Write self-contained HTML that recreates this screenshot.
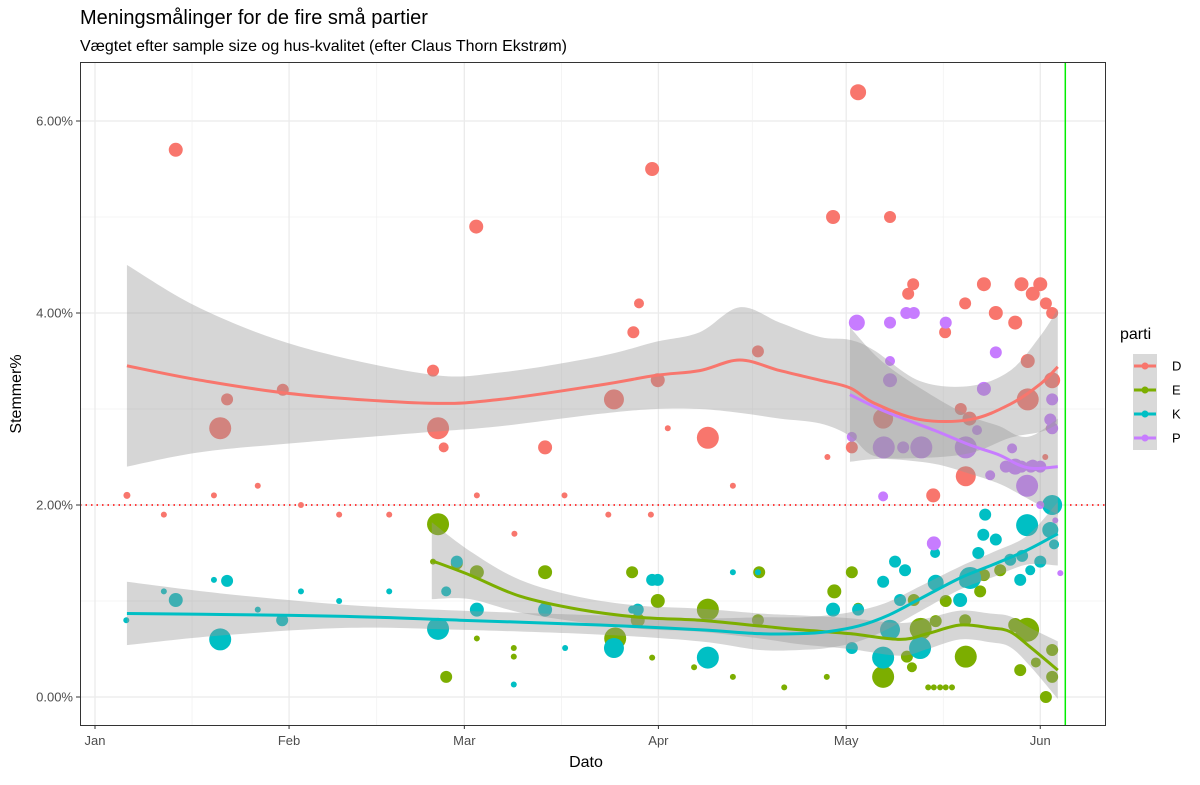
<!DOCTYPE html>
<html><head><meta charset="utf-8"><style>
body{margin:0;background:#fff;font-family:"Liberation Sans",Arial,sans-serif}
svg text{font-family:"Liberation Sans",Arial,sans-serif}
</style></head><body>
<svg id="chart" width="1200" height="780" viewBox="0 0 1200 780">
<text x="80" y="24" font-size="20" fill="#000">Meningsmålinger for de fire små partier</text>
<text x="80" y="51" font-size="16" fill="#000">Vægtet efter sample size og hus-kvalitet (efter Claus Thorn Ekstrøm)</text>
<g id="grid"></g><g id="pts"></g><g id="smooth"></g>
<rect x="80.5" y="62.5" width="1025" height="663" fill="none" stroke="#333" stroke-width="1"/>
<g id="axes"></g>
<text x="586" y="767" font-size="16" text-anchor="middle">Dato</text>
<text transform="translate(21,394) rotate(-90)" font-size="16" text-anchor="middle">Stemmer%</text>
<g id="legend"></g>
</svg>
<script>
// ---- data (day = days since Jan 1, value = percent, w = point size) ----
const monthLabels=["Jan","Feb","Mar","Apr","May","Jun"];
const monthDays=[0,31,59,90,120,151];
const yTicks=[0,2,4,6];
const yTickLabels=["0.00%","2.00%","4.00%","6.00%"];
const threshold=2;
const electionDay=155;
const parties=["D","E","K","P"];
const colors=["#F8766D","#7CAE00","#00BFC4","#C77CFF"];

const dDays=[5.1,11,12.9,20,21.1,19,26,30,32.9,39,47,54,54.8,55.7,60.9,61,67,71.9,75,82,82.9,86,86.9,89,88.8,89.9,91.5,97.9,101.9,105.9,117,117.9,120.9,121.9,127,125.9,129.9,130.7,133,133.9,135.8,138.3,139,139.1,139.7,142,143.9,147,148,149.8,151,149,149,151.9,152.9,152.9,152.5,151.8];
const dVals=[2.1,1.9,5.7,2.8,3.1,2.1,2.2,3.2,2.0,1.9,1.9,3.4,2.8,2.6,4.9,2.1,1.7,2.6,2.1,1.9,3.1,3.8,4.1,5.5,1.9,3.3,2.8,2.7,2.2,3.6,2.5,5.0,2.6,6.3,5.0,2.9,4.2,4.3,2.6,2.1,3.8,3.0,4.1,2.3,2.9,4.3,4.0,3.9,4.3,4.2,4.3,3.5,3.1,4.1,4.0,3.3,2.8,2.5];
const dSizes=[3.5,3,7,11,6,3,3,6,3,3,3,6,11,5,7,3,3,7,3,3,10,6,5,7,3,7,3,11,3,6,3,7,6,8,6,10,6,6,4,7,6,6,6,10,7,7,7,7,7,7,7,7,11,6,6,8,4,3];

const eDays=[54.8,54,57.8,61,61,56.1,71.9,66.9,66.9,83.1,85.8,86.7,89.9,89,97.9,95.7,101.9,106.1,105.9,110.1,116.9,118.1,120.9,125.9,129.7,131.9,130.8,134.3,135.9,133.1,134,135,135.9,136.9,139.1,139,141.4,142,144.6,147,148.9,147.8,150.3,151.9,152.9,152.9,130.5,121.9];
const eVals=[1.8,1.41,1.39,1.3,0.61,0.21,1.3,0.51,0.42,0.61,1.3,0.8,1.0,0.41,0.91,0.31,0.21,1.3,0.8,0.1,0.21,1.1,1.3,0.21,0.42,0.71,1.01,0.79,1.0,0.1,0.1,0.1,0.1,0.1,0.42,0.8,1.1,1.27,1.32,0.75,0.7,0.28,0.36,0.0,0.49,0.21,0.31,0.93];
const eSizes=[11,3,6,7,3,6,7,3,3,11,6,7,7,3,11,3,3,6,6,3,3,7,6,11,6,11,6,6,6,3,3,3,3,3,11,6,6,6,6,7,12,6,5,6,6,6,5,5];

const kDays=[5,11,12.9,19,20,21.1,26,29.9,32.9,39,47,54.8,56.1,57.8,61,66.9,71.9,75.1,82.9,85.8,86.7,89,89.9,97.9,101.9,105.9,117.9,120.9,121.9,125.9,127,125.9,127.8,129.4,128.6,131.8,134.2,134.3,138.2,139,139.8,141.1,141.9,142.2,143.9,146.2,147.8,148.9,148.1,149.4,151,152.6,152.9,153.2];
const kVals=[0.8,1.1,1.01,1.22,0.6,1.21,0.91,0.8,1.1,1.0,1.1,0.71,1.1,1.41,0.91,0.13,0.91,0.51,0.51,0.91,0.91,1.22,1.22,0.41,1.3,1.3,0.91,0.51,0.91,0.41,0.7,1.2,1.41,1.32,1.01,0.51,1.5,1.19,1.01,1.2,1.24,1.5,1.69,1.9,1.64,1.43,1.22,1.79,1.47,1.32,1.41,1.74,2.0,1.59];
const kSizes=[3,3,7,3,11,6,3,6,3,3,3,11,5,6,7,3,7,3,10,4,6,6,6,11,3,3,7,6,6,11,10,6,6,6,6,11,5,8,7,6,11,6,6,6,6,6,6,11,6,5,6,8,10,5];

const pDays=[121.7,127,127,127,120.9,126,129.6,130.8,135.9,125.9,132,129.1,139.1,143.9,148.9,149.8,152.6,152.9,152.9,146.5,140.9,134,142,147,145.5,148,149.5,151,143,151,153.4,154.2];
const pVals=[3.9,3.9,3.5,3.3,2.71,2.6,4.0,4.0,3.9,2.09,2.6,2.6,2.6,3.59,2.2,2.41,2.89,3.1,2.8,2.59,2.78,1.6,3.21,2.4,2.4,2.4,2.4,2.4,2.31,2.0,1.84,1.29];
const pSizes=[8,6,5,7,5,11,6,6,6,5,11,6,11,6,11,6,6,6,6,5,5,7,7,8,6,6,6,6,5,4,3,3];

// smooth fits
const dFitDays=[5.1,16.8,32.7,53.5,64.7,80.7,89.6,96.6,103,109.4,115.8,120.6,124.5,131.8,139.8,146.2,151,153.8];
const dFit=[3.45,3.30,3.15,3.06,3.10,3.25,3.35,3.40,3.51,3.40,3.30,3.22,3.06,2.89,2.89,3.05,3.26,3.44];
const dCi=[1.05,0.75,0.5,0.3,0.28,0.3,0.35,0.4,0.55,0.5,0.45,0.5,0.55,0.4,0.35,0.35,0.5,0.6];

const eFitDays=[53.8,59.9,67.9,77.5,87.1,96.6,106.2,112.6,120.6,128.6,133,138.2,143,146.2,149.4,153.8];
const eFit=[1.42,1.27,1.05,0.91,0.83,0.80,0.74,0.70,0.66,0.60,0.66,0.75,0.72,0.68,0.52,0.28];
const eCi=[0.4,0.25,0.17,0.13,0.12,0.12,0.13,0.15,0.16,0.17,0.16,0.15,0.15,0.16,0.2,0.3];

const kFitDays=[5.1,20,40,58.3,80.7,96.6,106.2,112.6,117,122,126.7,132,138.2,143.5,148.9,153.8];
const kFit=[0.87,0.86,0.84,0.80,0.75,0.70,0.66,0.66,0.68,0.74,0.85,1.03,1.24,1.38,1.53,1.70];
const kCi=[0.33,0.22,0.12,0.1,0.1,0.12,0.17,0.17,0.17,0.16,0.14,0.13,0.12,0.13,0.15,0.33];

const pFitDays=[120.6,126,134,140,144.5,147.5,150,153.8];
const pFit=[3.15,2.98,2.78,2.62,2.52,2.42,2.38,2.40];
const pCi=[0.7,0.5,0.35,0.3,0.3,0.3,0.35,0.5];

// ---- scales ----
const X=d=>95+d*6.26;
const Y=v=>697-v*96;
const NS="http://www.w3.org/2000/svg";
function mk(tag,parent,attrs){const e=document.createElementNS(NS,tag);for(const k in attrs)e.setAttribute(k,attrs[k]);parent.appendChild(e);return e;}

const grid=document.getElementById('grid');
const bg=mk('rect',grid,{x:80,y:62,width:1025,height:663,fill:'#fff'});


for(let i=0;i<yTicks.length;i++){
  const v=yTicks[i];
  if(i<yTicks.length-1){const m=mk('line',grid,{x1:80,x2:1105,y1:Y(v+1),y2:Y(v+1),stroke:'#f0f0f0','stroke-width':0.7});
    }
  const g=mk('line',grid,{x1:80,x2:1105,y1:Y(v),y2:Y(v),stroke:'#ebebeb','stroke-width':1.3});
  
  
}
for(let i=0;i<monthDays.length;i++){
  const d=monthDays[i];
  const g=mk('line',grid,{x1:X(d),x2:X(d),y1:62,y2:725,stroke:'#ebebeb','stroke-width':1.3});
  
  
  if(i<monthDays.length-1){const mid=(d+monthDays[i+1])/2;
    const m=mk('line',grid,{x1:X(mid),x2:X(mid),y1:62,y2:725,stroke:'#f0f0f0','stroke-width':0.7});
    }
}
const thr=mk('line',grid,{x1:80,x2:1105,y1:Y(threshold),y2:Y(threshold),stroke:'#ff0000','stroke-width':1.5,'stroke-dasharray':'1.5 4'});


const el=mk('line',grid,{x1:X(electionDay),x2:X(electionDay),y1:62,y2:725,stroke:'#00ee00','stroke-width':1.5});



const pts=document.getElementById('pts');
const series=[[dDays,dVals,dSizes],[eDays,eVals,eSizes],[kDays,kVals,kSizes],[pDays,pVals,pSizes]];
series.forEach((s,si)=>{
  const g=mk('g',pts,{fill:colors[si]});
  
  
  for(let i=0;i<s[0].length;i++){
    const c=mk('circle',g,{cx:X(s[0][i]),cy:Y(s[1][i]),r:s[2][i]});
    
    
  }
});

const sm=document.getElementById('smooth');
const fits=[[dFitDays,dFit,dCi],[eFitDays,eFit,eCi],[kFitDays,kFit,kCi],[pFitDays,pFit,pCi]];
function curve(xs,ys){let p='M'+xs[0]+','+ys[0];
  for(let i=0;i<xs.length-1;i++){const x0=xs[i-1]??xs[i],y0=ys[i-1]??ys[i],x3=xs[i+2]??xs[i+1],y3=ys[i+2]??ys[i+1];
    p+=' C'+(xs[i]+(xs[i+1]-x0)/6)+','+(ys[i]+(ys[i+1]-y0)/6)+' '+(xs[i+1]-(x3-xs[i])/6)+','+(ys[i+1]-(y3-ys[i])/6)+' '+xs[i+1]+','+ys[i+1];}
  return p;}
fits.forEach((f,si)=>{
  const xs=f[0].map(X);
  const up=f[1].map((v,i)=>Y(v+f[2][i])), lo=f[1].map((v,i)=>Y(v-f[2][i]));
  const upP=curve(xs,up);
  const loP=curve(xs.slice().reverse(),lo.slice().reverse()).replace('M','L');
  const b=mk('path',sm,{d:upP+' '+loP+' Z',fill:'#999','fill-opacity':0.4});
  
  
});
fits.forEach((f,si)=>{
  const l=mk('path',sm,{d:curve(f[0].map(X),f[1].map(Y)),fill:'none',stroke:colors[si],'stroke-width':3});
  
  
});

const ax=document.getElementById('axes');
for(let i=0;i<yTicks.length;i++){
  const y=Y(yTicks[i]);
  mk('line',ax,{x1:76,x2:80,y1:y,y2:y,stroke:'#333'});
  const t=mk('text',ax,{x:73,y:y+4.5,'font-size':13,'text-anchor':'end',fill:'#4d4d4d'});
  t.textContent=yTickLabels[i];
  
  
}
for(let i=0;i<monthDays.length;i++){
  const x=X(monthDays[i]);
  mk('line',ax,{x1:x,x2:x,y1:725,y2:729,stroke:'#333'});
  const t=mk('text',ax,{x:x,y:745,'font-size':13,'text-anchor':'middle',fill:'#4d4d4d'});
  t.textContent=monthLabels[i];
  
  
}

const lg=document.getElementById('legend');


const lt=mk('text',lg,{x:1120,y:339,'font-size':16});
lt.textContent='parti';


parties.forEach((p,i)=>{
  const cy=366+i*24;
  const g=mk('g',lg,{});
  
  
  mk('rect',g,{x:1133,y:cy-12,width:24,height:24,fill:'#d9d9d9'});
  mk('line',g,{x1:1134,x2:1156,y1:cy,y2:cy,stroke:colors[i],'stroke-width':3});
  mk('circle',g,{cx:1145,cy:cy,r:3.5,fill:colors[i]});
  const t=mk('text',g,{x:1172,y:cy+4.5,'font-size':13});
  t.textContent=p;
});
</script>
</body></html>
